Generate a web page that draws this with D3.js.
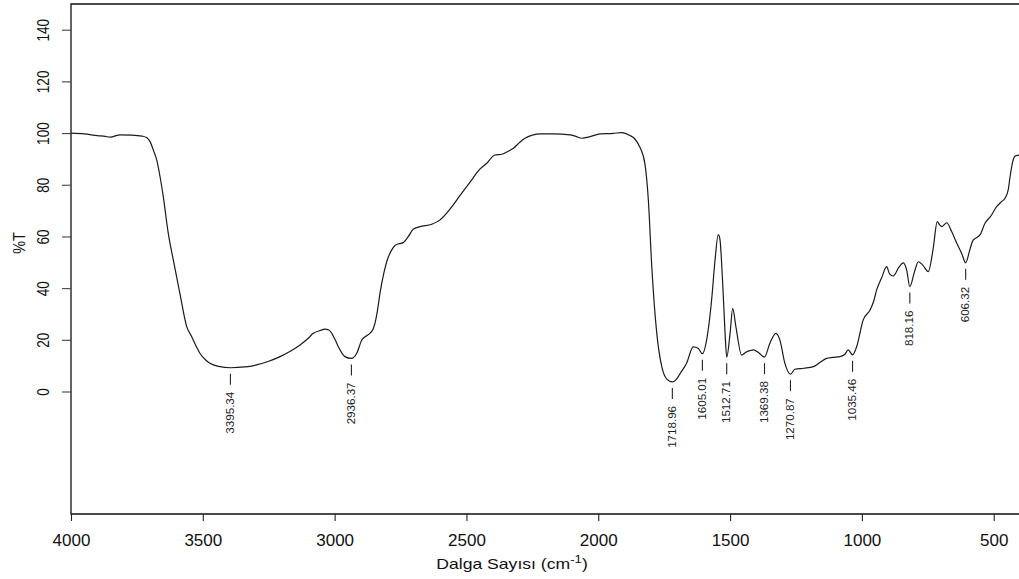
<!DOCTYPE html>
<html>
<head>
<meta charset="utf-8">
<script src="https://cdn.jsdelivr.net/npm/d3@7"></script>
<style>
  html, body { margin: 0; padding: 0; background: #fff; }
  svg { display: block; font-family: "Liberation Sans", Arial, sans-serif; }
</style>
</head>
<body>
<svg id="chart" width="1019" height="579"></svg>
<script>
// FTIR spectrum: wavenumber (cm-1) vs. transmittance (%T)
const wavenumber = [4000, 3950, 3900, 3870, 3852, 3835, 3814, 3770, 3730, 3712, 3700, 3688, 3675, 3662, 3650,
  3631, 3612, 3587, 3561, 3542, 3525, 3511, 3490, 3473, 3440, 3395.34, 3340, 3296, 3250, 3207, 3170, 3131,
  3100, 3081, 3055, 3037, 3022, 3011, 2998, 2986, 2961, 2936.37, 2916, 2897, 2880, 2866, 2855, 2847, 2838,
  2828, 2815, 2800, 2785, 2771, 2755, 2740, 2720, 2702, 2676, 2632, 2600, 2575, 2550, 2525, 2499, 2475, 2455,
  2423, 2392, 2366, 2345, 2322, 2300, 2278, 2250, 2221, 2171, 2107, 2085, 2063, 2031, 1993, 1943, 1911, 1880,
  1862, 1842, 1823, 1810, 1797, 1778, 1759, 1740, 1718.96, 1700, 1689, 1665, 1640, 1621, 1605.01, 1589, 1570,
  1557, 1545, 1541, 1538, 1528, 1519, 1512.71, 1500, 1490, 1478, 1456, 1440, 1425, 1412, 1390, 1369.38, 1349,
  1326, 1311, 1292, 1270.87, 1254, 1220, 1184, 1160, 1134, 1110, 1083, 1065, 1052, 1035.46, 1020, 995, 969,
  955, 944, 925, 906, 895, 881, 860, 843, 830, 818.16, 800, 786, 770, 748, 730, 714, 705, 697, 678, 660, 640,
  620, 606.32, 590, 578, 565, 552, 533, 510, 489, 470, 457, 445, 438, 425, 419, 400];

const transmittance = [100, 99.7, 99.0, 98.7, 98.4, 98.8, 99.3, 99.2, 98.8, 98.2, 96.7, 93.5, 89.6, 83, 75.4,
  61.2, 50.9, 38.0, 25.1, 21.2, 17.5, 14.8, 12.3, 10.9, 9.7, 9.2, 9.5, 10.3, 11.7, 13.5, 15.5, 18.0,
  20.6, 22.5, 23.6, 24.1, 23.8, 22.5, 20, 17.3, 13.5, 12.8, 14.8, 19.9, 21.5, 22.5, 24, 26.4, 31,
  38, 45, 51, 54.5, 56.5, 57.2, 57.6, 60, 62.8, 63.8, 64.7, 66.4, 69, 72.2, 75.8, 79.3, 82.6, 85.4,
  88.3, 91.5, 91.8, 92.8, 94.1, 96.2, 98.0, 99.2, 99.7, 99.7, 99.3, 98.7, 98.0, 98.6, 99.7, 99.9, 100.2, 99.1,
  97.8, 94.5, 88.1, 74.1, 48.3, 22.5, 9.6, 4.8, 3.7, 5.2, 7.0, 10.9, 17.3, 16.7, 14.6, 19.9, 35.4,
  50.9, 60.6, 60.2, 58.6, 41.9, 22.5, 13.3, 22.5, 32.2, 25.1, 14.1, 15.2, 15.8, 16.1, 14.9, 13.3, 18.7,
  22.5, 19.9, 10.9, 6.7, 8.6, 9.0, 9.6, 11.2, 12.8, 13.2, 13.5, 14.3, 16.1, 14.2, 17.3, 27.7, 31.5,
  35, 39.3, 44, 48.3, 45.5, 44.7, 48, 49.8, 47, 40.6, 46.5, 50.2, 49, 46.4, 55, 65.7, 64.5, 63.8, 65.3, 62, 57.4,
  53, 49.8, 55, 58.6, 59.5, 60.6, 65.1, 68, 71.5, 73.5, 74.8, 78, 83.1, 90, 91.1, 91.5];

// Labelled absorption bands
const peakWavenumber = [3395.34, 2936.37, 1718.96, 1605.01, 1512.71, 1369.38, 1270.87, 1035.46, 818.16, 606.32];
const peakTransmittance = [9.2, 12.8, 3.7, 14.6, 13.3, 13.3, 6.7, 14.2, 40.6, 49.8];

const xTicks = [4000, 3500, 3000, 2500, 2000, 1500, 1000, 500];
const yTicks = [0, 20, 40, 60, 80, 100, 120, 140];

const svg = d3.select("#chart");
const W = 1019;

const x = d3.scaleLinear().domain([4000, 500]).range([71, 993.7]);
const y = d3.scaleLinear().domain([0, 140]).range([391.5, 29.7]);
const plotTop = 4, plotBottom = 514, plotLeft = 71;

// frame
svg.append("path")
  .attr("d", `M${W + 2},${plotTop}H${plotLeft}V${plotBottom}H${W + 2}`)
  .attr("fill", "none").attr("stroke", "#111").attr("stroke-width", 1.3);

// x axis
const gx = svg.append("g").attr("transform", `translate(0,${plotBottom})`)
  .call(d3.axisBottom(x).tickValues(xTicks).tickSize(7).tickPadding(13).tickFormat(d3.format("d")));
gx.select(".domain").remove();
gx.selectAll(".tick line").attr("stroke", "#222").attr("stroke-width", 1.1);
gx.selectAll(".tick text").attr("font-size", 17).attr("fill", "#111")
  .attr("font-family", "Liberation Sans, Arial, sans-serif");

// y axis
const gy = svg.append("g").attr("transform", `translate(${plotLeft},0)`)
  .call(d3.axisLeft(y).tickValues(yTicks).tickSize(9).tickFormat(d3.format("d")));
gy.select(".domain").remove();
gy.selectAll(".tick line").attr("stroke", "#444").attr("stroke-width", 1.1);
gy.selectAll(".tick text")
  .attr("x", null).attr("dy", null)
  .attr("text-anchor", "middle")
  .attr("font-size", 17).attr("fill", "#111")
  .attr("font-family", "Liberation Sans, Arial, sans-serif")
  .attr("transform", "translate(-21.7,0) rotate(-90) scale(0.8,1)");

// axis titles
svg.append("text")
  .attr("transform", "translate(24.5,243) rotate(-90) scale(0.85,1)")
  .attr("text-anchor", "middle")
  .attr("font-size", 17).attr("fill", "#111")
  .text("%T");

const title = svg.append("text")
  .attr("transform", "translate(512,569) scale(1.1,0.92)")
  .attr("text-anchor", "middle")
  .attr("font-size", 16).attr("fill", "#111");
title.append("tspan").text("Dalga Sayısı (cm");
title.append("tspan").attr("font-size", 12).attr("dy", -6).text("-1");
title.append("tspan").attr("dy", 6).text(")");

// spectrum
const data = wavenumber.map((w, i) => [w, transmittance[i]]);
const line = d3.line()
  .x(d => x(d[0]))
  .y(d => y(d[1]))
  .curve(d3.curveMonotoneX);
svg.append("path")
  .datum(data)
  .attr("d", line)
  .attr("fill", "none")
  .attr("stroke", "#1a1a1a")
  .attr("stroke-width", 1.2)
  .attr("stroke-linejoin", "round");

// peak markers: short dash under each band, then the rotated wavenumber
const peaks = peakWavenumber.map((w, i) => ({ w, t: peakTransmittance[i] }));
const pg = svg.append("g");
pg.selectAll("line").data(peaks).join("line")
  .attr("x1", d => x(d.w)).attr("x2", d => x(d.w))
  .attr("y1", d => y(d.t) + 6).attr("y2", d => y(d.t) + 17)
  .attr("stroke", "#222").attr("stroke-width", 1.1);
pg.selectAll("text").data(peaks).join("text")
  .attr("transform", d => `translate(${x(d.w) + 3.6},${y(d.t) + 24}) rotate(-90)`)
  .attr("text-anchor", "end")
  .attr("font-size", 11.6).attr("fill", "#222")
  .text(d => d.w.toFixed(2));
</script>
</body>
</html>
